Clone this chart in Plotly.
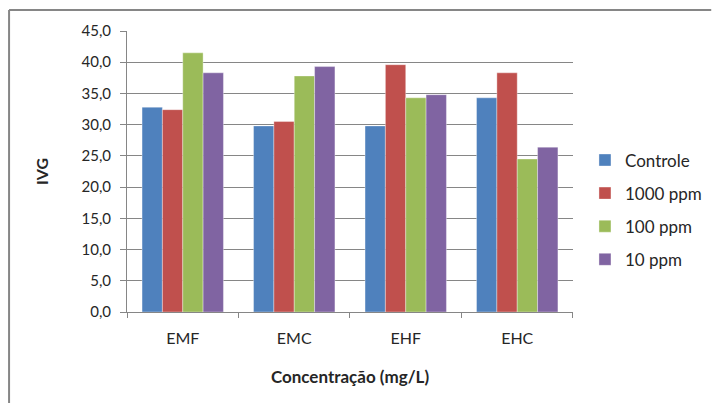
import plotly.graph_objects as go

categorias = ["EMF", "EMC", "EHF", "EHC"]
controle = [32.8, 29.8, 29.8, 34.3]
ppm1000 = [32.4, 30.5, 39.6, 38.3]
ppm100 = [41.5, 37.8, 34.3, 24.5]
ppm10 = [38.3, 39.3, 34.8, 26.4]

series = [("Controle", controle, "#4F81BD"),
          ("1000 ppm", ppm1000, "#C0504D"),
          ("100 ppm", ppm100, "#9BBB59"),
          ("10 ppm", ppm10, "#8064A2")]

fig = go.Figure()
for i, (nome, vals, cor) in enumerate(series):
    fig.add_trace(go.Bar(x=categorias, y=vals, name=nome, legendgroup=str(i),
                         marker=dict(color=cor, line=dict(color="rgba(255,255,255,0.35)", width=1))))

# chart-area frame (only top and left edges fall inside the picture)
borda = dict(color="#868686", width=2)
fig.add_shape(type="line", xref="paper", yref="paper", x0=-119/450, x1=1.31,
              y0=1 + 21/281, y1=1 + 21/281, line=borda)
fig.add_shape(type="line", xref="paper", yref="paper", x0=-119/450, x1=-119/450,
              y0=-0.33, y1=1 + 21/281, line=borda)

fig.update_layout(
    width=716, height=403,
    margin=dict(l=127, r=139, t=31, b=91),
    paper_bgcolor="white", plot_bgcolor="white",
    font=dict(family="Lato, Liberation Sans, sans-serif", size=15, color="#262626"),
    separators=",.",
    barmode="group", bargap=0.27, bargroupgap=0,
    showlegend=True,
    legend=dict(xref="container", yref="container", x=0.817, xanchor="left",
                y=0.479, yanchor="middle",
                traceorder="grouped", tracegroupgap=8,
                font=dict(size=17), itemwidth=30),
    xaxis=dict(showline=True, linecolor="#868686", linewidth=1,
               ticks="outside", tickson="boundaries", ticklen=5, tickcolor="#868686",
               ticklabelstandoff=12, tickfont=dict(size=16),
               title=dict(text="<b>Concentração (mg/L)</b>", standoff=24, font=dict(size=17))),
    yaxis=dict(range=[0, 45], dtick=5, tickformat=".1f",
               showline=True, linecolor="#868686", linewidth=1,
               gridcolor="#868686", gridwidth=1,
               ticks="outside", ticklen=6, tickcolor="#868686",
               ticklabelstandoff=6,
               zeroline=False, tickfont=dict(size=15),
               title=dict(text="<b>IVG</b>", standoff=28, font=dict(size=16))),
)

# drop the default body margin so the figure sits at the page origin
fig.write_html("out.html", config={"displayModeBar": False},
               post_script="document.body.style.margin='0';")
